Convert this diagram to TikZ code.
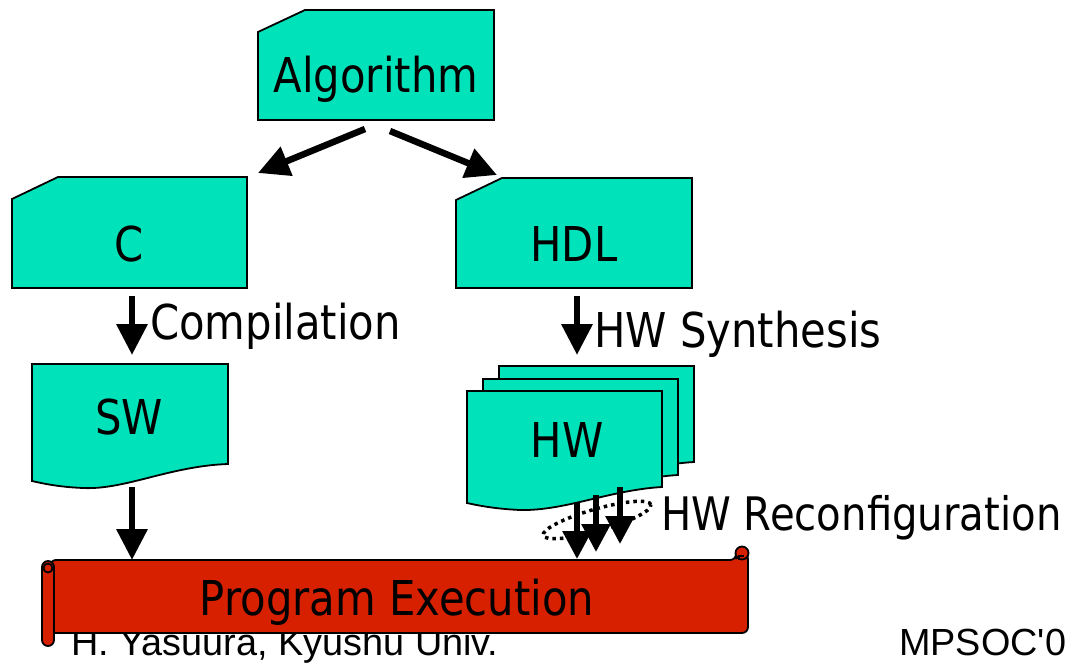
\documentclass[tikz,border=0pt]{standalone}
\usepackage{fontspec}
\setmainfont{DejaVu Sans}[FakeStretch=0.87]
\newfontfamily\footfont{Liberation Sans}[Ligatures=TeXOff]
\usetikzlibrary{arrows.meta}
\definecolor{tealfill}{RGB}{0,227,186}
\definecolor{scrollred}{RGB}{214,32,0}
\begin{document}
\begin{tikzpicture}[x=1pt,y=-1pt,
  shapebox/.style={fill=tealfill, draw=black, line width=1.8pt, line join=miter},
  lbl/.style={inner sep=0pt, font=\fontsize{48}{52}\selectfont},
  foot/.style={inner sep=0pt, anchor=base west, font=\footfont\fontsize{37.8}{40}\selectfont},
  blk/.style={line width=6.5pt, -{Triangle[length=31pt,width=30pt]}},
  smallarr/.style={line width=6pt, -{Triangle[length=28pt,width=28pt]}},
  scrollp/.style={fill=scrollred, draw=black, line width=1.8pt}]
\useasboundingbox (0,0) rectangle (1065,662);

% footer (behind the scroll)
\node[foot] (foot1) at (71,655) {H. Yasuura, Kyushu Univ.};
\node[foot] (foot2) at (899,655) {MPSOC'0};

% Algorithm card
\draw[shapebox] (258,32) -- (305,10) -- (494,10) -- (494,120) -- (258,120) -- cycle;
\node[lbl, anchor=base] (alg) at (376,92) {Algorithm};

% C card
\draw[shapebox] (12,199) -- (58,177) -- (247,177) -- (247,288) -- (12,288) -- cycle;
\node[lbl, anchor=base] (c) at (129,261) {C};

% HDL card
\draw[shapebox] (456,200) -- (502,178) -- (692,178) -- (692,288) -- (456,288) -- cycle;
\node[lbl, anchor=base] (hdl) at (574,261) {HDL};

% SW document
\draw[shapebox] (32,364) -- (228,364) -- (228,464)
  .. controls (170,466) and (125,490) .. (83,488)
  .. controls (60,487) and (45,484) .. (32,481) -- cycle;
\node[lbl, anchor=base] (sw) at (129,434) {SW};

% HW documents (stack)
\foreach \dx/\dy in {32/-25, 16/-12, 0/0}{
  \begin{scope}[shift={(\dx,\dy)}]
  \draw[shapebox] (467,391) -- (662,391) -- (662,487)
    .. controls (610,490) and (565,511) .. (520,510)
    .. controls (500,509) and (485,507) .. (467,503) -- cycle;
  \end{scope}
}
\node[lbl, anchor=base] (hw) at (567,457) {HW};

% labels
\node[lbl, anchor=base west] (comp) at (150,339) {Compilation};
\node[lbl, anchor=base west] (synth) at (594,347) {HW Synthesis};
\node[lbl, anchor=base west, font=\fontsize{46.2}{50}\selectfont] (reconf) at (661,530) {HW Reconfiguration};

% connector end points
\coordinate (alS1) at (365,129);
\coordinate (cT) at (258,173);
\coordinate (alS2) at (390,131);
\coordinate (hdlT) at (497,175);
\coordinate (cB) at (132,296);
\coordinate (swT) at (132,355);
\coordinate (hdlB) at (577,296);
\coordinate (hwT) at (577,355);
\coordinate (swB) at (132,487);
\coordinate (peT1) at (132,560);
\coordinate (hwB1) at (577,503);
\coordinate (peT2) at (577,559);
\coordinate (hwB2) at (596,495);
\coordinate (peT3) at (596,552);
\coordinate (hwB3) at (620,487);
\coordinate (peT4) at (620,544);
\coordinate (ell) at (597,520);

\draw[blk] (alS1) -- (cT);
\draw[blk] (alS2) -- (hdlT);
\draw[blk] (cB) -- (swT);
\draw[blk] (hdlB) -- (hwT);
\draw[blk] (swB) -- (peT1);

% dotted ellipse
\draw[line width=3.5pt, dash pattern=on 3.5pt off 4pt, rotate around={16:(ell)}]
  (ell) ellipse [x radius=56pt, y radius=11pt];

\draw[smallarr] (hwB1) -- (peT2);
\draw[smallarr] (hwB2) -- (peT3);
\draw[smallarr] (hwB3) -- (peT4);

% scroll: Program Execution
\draw[scrollp, rounded corners=6pt] (50,560) -- (736,560) -- (736,553) -- (748,553) -- (748,633) -- (50,633) -- cycle;
\draw[scrollp, rounded corners=6pt] (42,561) rectangle (54,646);
\draw[scrollp] (48,568) circle [radius=4.5pt];
\draw[scrollp] (742,553) circle [radius=6.5pt];
\draw[black, line width=1.5pt] (739,560) -- (739,556) -- (744,556);
\node[lbl, anchor=base] (pe) at (397,615) {Program Execution};
\end{tikzpicture}
\end{document}
